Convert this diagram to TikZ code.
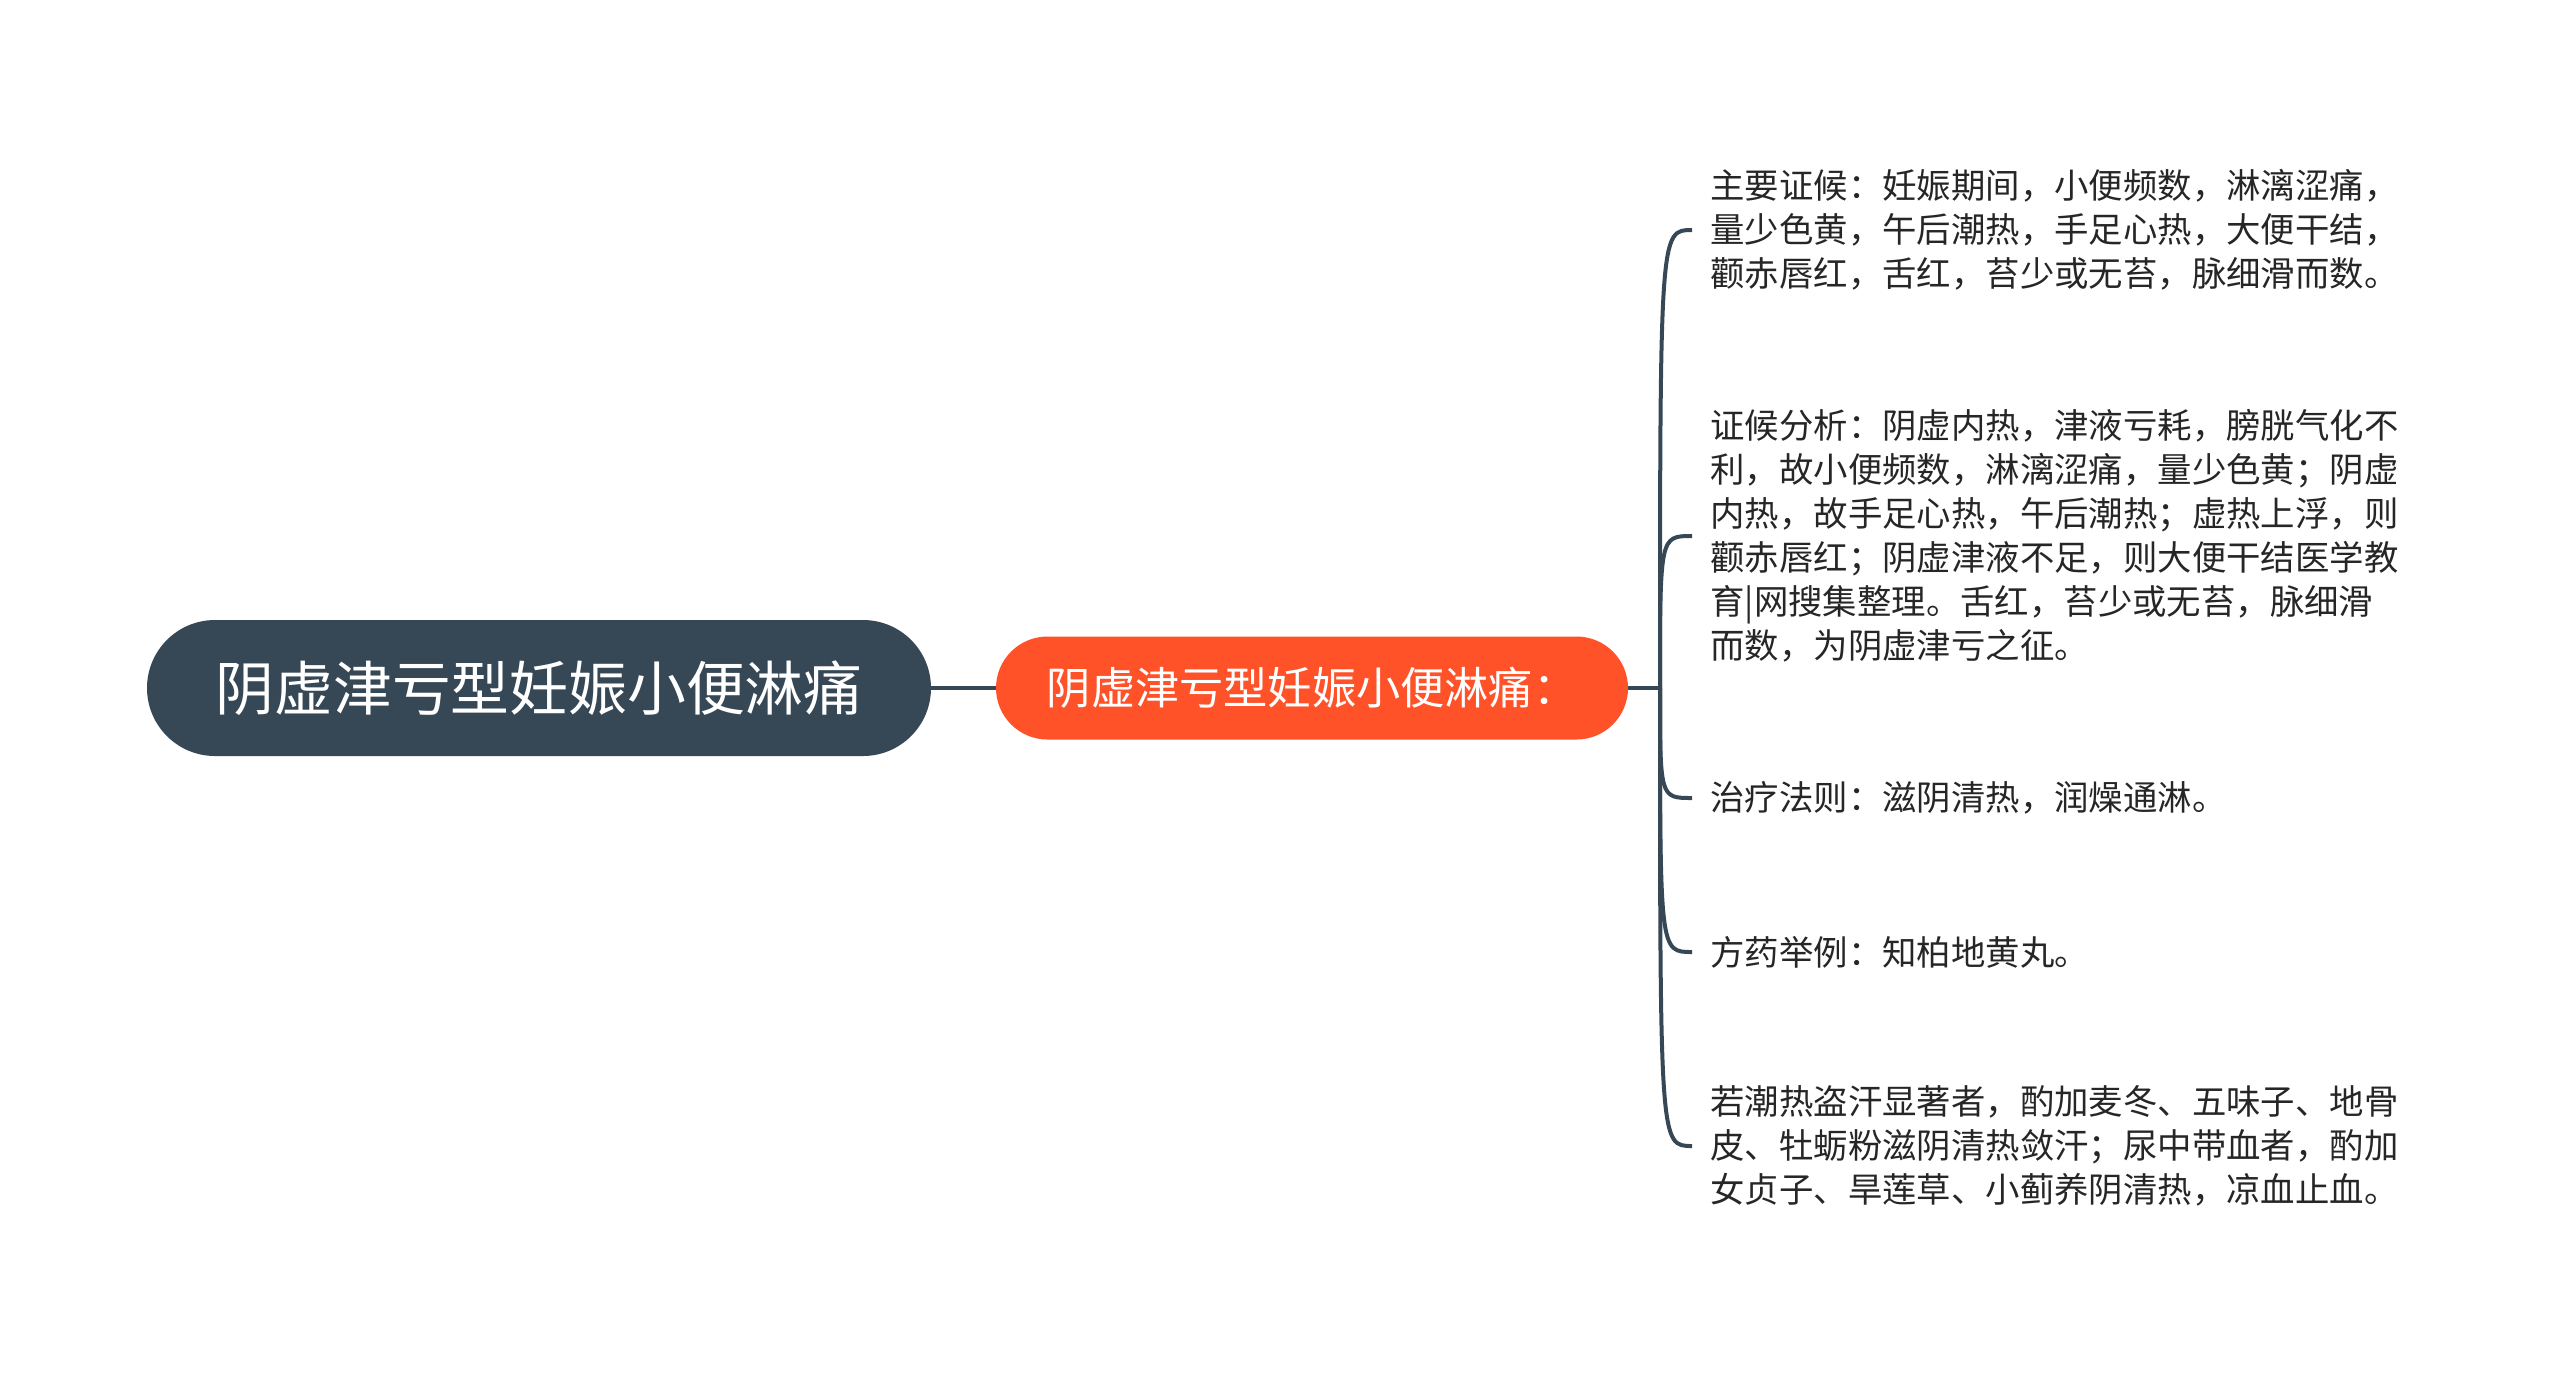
\documentclass[tikz,border=0pt]{standalone}
\usepackage{fontspec}
\usepackage{tikz}
\usetikzlibrary{calc}
\newfontfamily\cjk{Noto Sans CJK SC}
\definecolor{slate}{RGB}{54,71,86}
\definecolor{redorange}{RGB}{255,82,41}
\tikzset{
	root/.style={fill=slate, text=white, rounded corners=34pt, minimum width=392pt, minimum height=68pt, inner sep=0pt, font=\cjk\fontsize{29.4}{35}\selectfont},
	topic/.style={fill=redorange, text=white, rounded corners=25.75pt, minimum width=316pt, minimum height=51.5pt, inner sep=0pt, font=\cjk\fontsize{22.1}{27}\selectfont},
	leaf/.style={anchor=west, align=left, inner xsep=9pt, inner ysep=0pt, text=black!85, font=\cjk\fontsize{17.2}{22}\selectfont},
	branch/.style={draw=slate, line width=2pt},
}
\begin{document}
\begin{tikzpicture}[x=0.5pt,y=-0.5pt]
	\useasboundingbox (0,0) rectangle (2560,1378);
	\node[root] (main) at (539,688) {阴虚津亏型妊娠小便淋痛};
	\node[topic] (sub) at (1312,688) {阴虚津亏型妊娠小便淋痛：};
	\coordinate (fork) at (1660,688);
	% leaves
	\node[leaf] (l1) at (1692,230) {主要证候：妊娠期间，小便频数，淋漓涩痛，\\量少色黄，午后潮热，手足心热，大便干结，\\颧赤唇红，舌红，苔少或无苔，脉细滑而数。};
	\node[leaf] (l2) at (1692,536) {证候分析：阴虚内热，津液亏耗，膀胱气化不\\利，故小便频数，淋漓涩痛，量少色黄；阴虚\\内热，故手足心热，午后潮热；虚热上浮，则\\颧赤唇红；阴虚津液不足，则大便干结医学教\\育|网搜集整理。舌红，苔少或无苔，脉细滑\\而数，为阴虚津亏之征。};
	\node[leaf] (l3) at (1692,798) {治疗法则：滋阴清热，润燥通淋。};
	\node[leaf] (l4) at (1692,952) {方药举例：知柏地黄丸。};
	\node[leaf] (l5) at (1692,1146) {若潮热盗汗显著者，酌加麦冬、五味子、地骨\\皮、牡蛎粉滋阴清热敛汗；尿中带血者，酌加\\女贞子、旱莲草、小蓟养阴清热，凉血止血。};
	\draw[branch] (main) -- (sub);
	\draw[branch] (sub) -- (fork);
	\foreach \n in {l1,l2,l3,l4,l5}
		\draw[branch] (fork) .. controls (fork |- \n.west) .. (\n.west);
\end{tikzpicture}
\end{document}
